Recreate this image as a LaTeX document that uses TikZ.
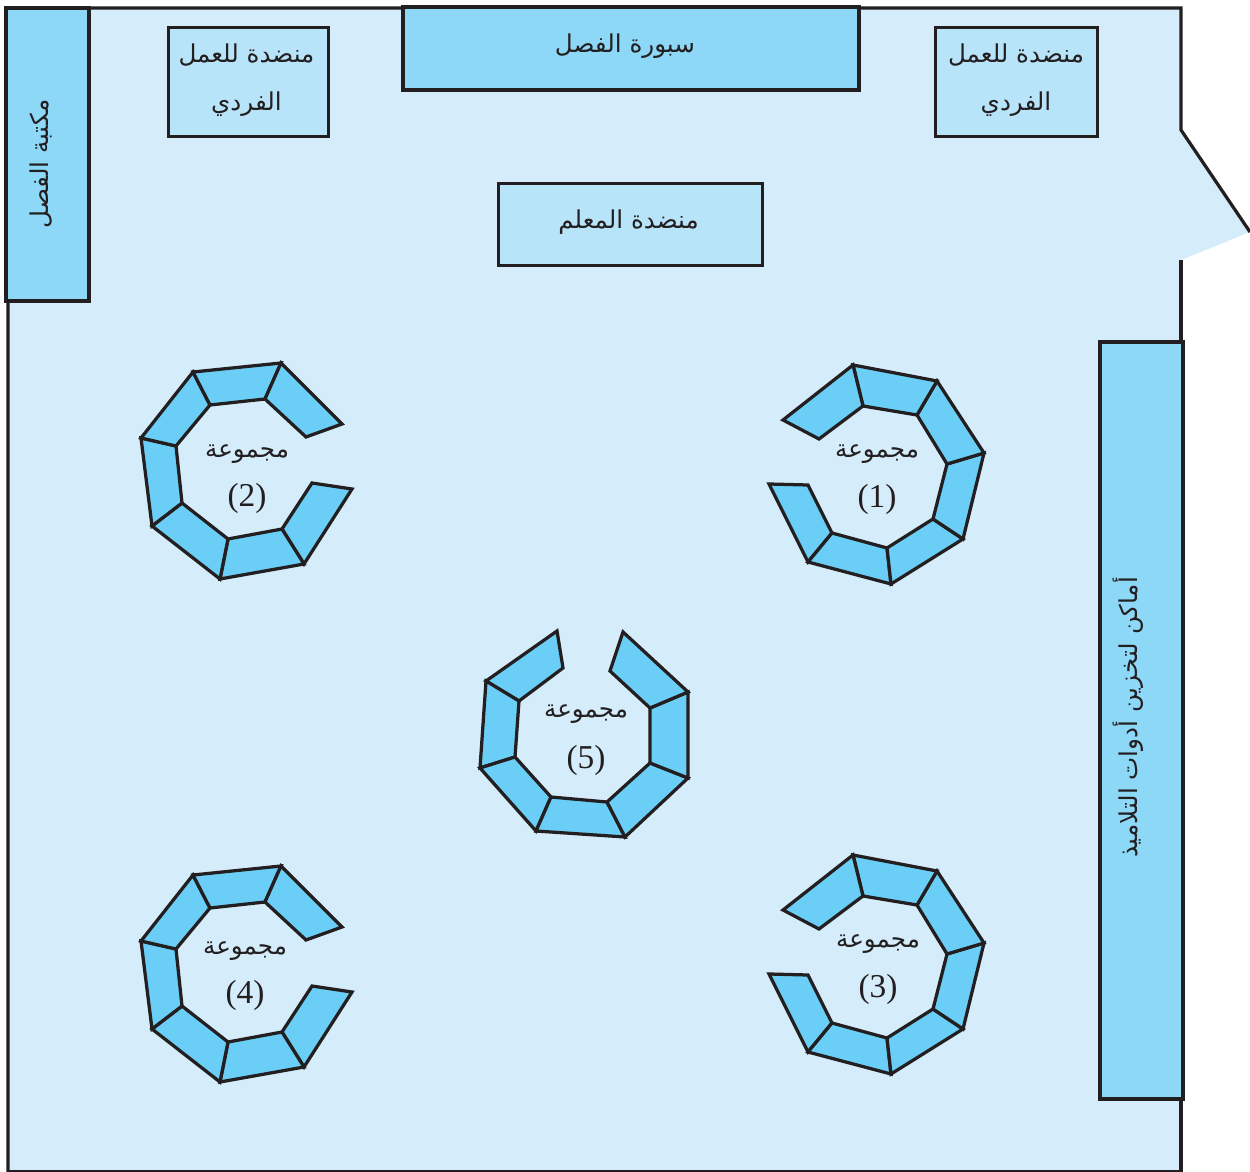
\documentclass[tikz,border=0pt]{standalone}
\usepackage{fontspec}
\usetikzlibrary{positioning}
\TeXXeTstate=1
\setmainfont{Liberation Serif}
\newfontfamily\arabicfont[Script=Arabic]{DejaVu Sans}
\newcommand{\artext}[1]{\arabicfont\beginR #1\endR}
\definecolor{roomblue}{HTML}{D5ECFB}
\definecolor{seatblue}{HTML}{6BCEF6}
\definecolor{boardblue}{HTML}{8DD7F7}
\definecolor{deskblue}{HTML}{B8E4FA}
\definecolor{inkline}{HTML}{231F20}

% one ring of seven seats: outer corners, then inner corners
\newcommand{\seatring}[2]{
    \foreach \p [count=\k] in {#1} \path \p coordinate (o\k);
    \foreach \p [count=\k] in {#2} \path \p coordinate (i\k);
    \foreach \k [evaluate=\k as \n using int(\k+1)] in {1,...,7}
        \draw[seat] (o\k) -- (o\n) -- (i\n) -- (i\k) -- cycle;
}
\newcommand{\ringone}{\seatring
    {(769,484),(808,562),(891,584),(963,539),(984,453),(937,381),(853,365),(783,420)}
    {(808,485),(832,533),(887,548),(933,519),(947,464),(917,415),(863,406),(819,439)}}
\newcommand{\ringtwo}{\seatring
    {(352,489),(304,564),(220,579),(152,526),(141,438),(193,372),(281,363),(342,424)}
    {(312,483),(282,529),(228,539),(182,503),(176,446),(210,405),(265,399),(306,437)}}

\begin{document}
\begin{tikzpicture}[x=0.02cm, y=-0.02cm]
    \tikzset{
        seat/.style={draw=inkline, fill=seatblue, line width=0.065cm, line join=miter},
        wallline/.style={draw=inkline, line width=0.065cm},
        boardbox/.style={rectangle, draw=inkline, fill=boardblue, line width=0.068cm},
        deskbox/.style={rectangle, draw=inkline, fill=deskblue, line width=0.06cm},
        artitle/.style={inner sep=0pt, text=inkline, align=center, font=\fontsize{14}{27.3}\selectfont},
        groupnum/.style={inner sep=0pt, text=inkline, font=\fontsize{19}{20}\selectfont}
    }
    \useasboundingbox (0,0) rectangle (1250,1172);

    % Room floor and walls
    \fill[roomblue] (8,8) -- (1181,8) -- (1181,130) -- (1250,232) -- (1181,260)
        -- (1181,1172) -- (8,1172) -- cycle;
    \draw[wallline] (8,1172) -- (8,8) -- (1181,8) -- (1181,130) -- (1250,232);
    \draw[wallline] (1181,260) -- (1181,1172) -- (8,1172);

    % Shelves, board and desks
    \node[boardbox, minimum width=1.66cm, minimum height=5.86cm] (shelf) at (47.5,154.5) {};
    \node[boardbox, minimum width=9.12cm, minimum height=1.66cm] (board) at (631,48.5) {};
    \node[boardbox, minimum width=1.66cm, minimum height=15.14cm] (storage) at (1141.5,720.5) {};
    \node[deskbox, minimum width=3.22cm, minimum height=2.2cm] (deskleft) at (248.5,82) {};
    \node[deskbox, minimum width=3.24cm, minimum height=2.2cm] (deskright) at (1016,82) {};
    \node[deskbox, minimum width=5.3cm, minimum height=1.66cm] (teacher) at (630.5,224.5) {};

    \node[artitle, rotate=90] (shelftext) at ([shift={(-6,9)}]shelf.center) {\artext{مكتبة الفصل}};
    \node[artitle] (boardtext) at ([shift={(-6,-2)}]board.center) {\artext{سبورة الفصل}};
    \node[artitle, rotate=90] (storagetext) at ([shift={(-13,-3)}]storage.center) {\artext{أماكن لتخزين أدوات التلاميذ}};
    \node[artitle] (lefttext) at ([shift={(-2,-2)}]deskleft.center) {\artext{منضدة للعمل}\\\artext{الفردي}};
    \node[artitle] (righttext) at ([shift={(0,-2)}]deskright.center) {\artext{منضدة للعمل}\\\artext{الفردي}};
    \node[artitle] (teachertext) at ([shift={(-2,-2)}]teacher.center) {\artext{منضدة المعلم}};

    % Groups of seats
    \ringone
    \ringtwo
    \begin{scope}[shift={(0,490)}]
        \ringone
    \end{scope}
    \begin{scope}[shift={(0,503)}]
        \ringtwo
    \end{scope}
    \seatring
        {(557,631),(486,681),(480,768),(536,831),(625,837),(688,778),(688,692),(623,632)}
        {(563,668),(519,701),(515,757),(551,797),(607,802),(650,763),(650,708),(610,671)}

    % Group labels
    \foreach \g/\lx/\ty/\ny in {1/877/454/499, 2/247/454/498, 3/878/944/989, 4/245/951/995, 5/586/714/760} {
        \node[artitle] (title\g) at (\lx,\ty) {\artext{مجموعة}};
        \node[groupnum] (num\g) at (\lx,\ny) {(\g)};
    }
\end{tikzpicture}
\end{document}
